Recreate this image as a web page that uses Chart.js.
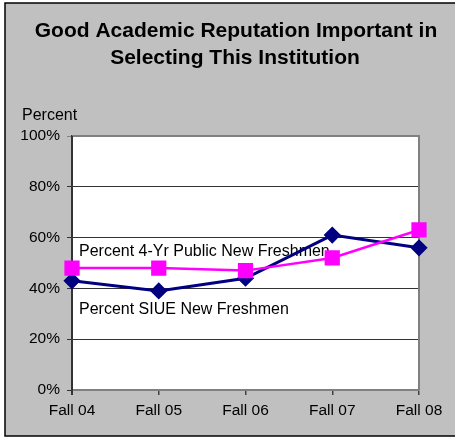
<!DOCTYPE html>
<html>
<head>
<meta charset="utf-8">
<script src="https://cdn.jsdelivr.net/npm/chart.js@4/dist/chart.umd.min.js"></script>
<style>
  html, body { margin: 0; padding: 0; background: #fff; }
  canvas { display: block; }
</style>
</head>
<body>
<canvas id="chart" width="455" height="439"></canvas>
<script>
// chart data
const categories = ['Fall 04', 'Fall 05', 'Fall 06', 'Fall 07', 'Fall 08'];
const siueValues = [43, 39, 44, 61, 56];
const publicValues = [48, 48, 47, 52, 63];
const seriesNames = ['Percent 4-Yr Public New Freshmen', 'Percent SIUE New Freshmen'];
const titleLines = ['Good Academic Reputation Important in', 'Selecting This Institution'];
const yTicks = [0, 20, 40, 60, 80, 100];

const FONT = '"Liberation Sans", Arial, sans-serif';

// gray frame, white plot area, titles and in-plot labels
const frame = {
    id: 'frame',
    beforeDraw(chart) {
        const ctx = chart.ctx;
        const a = chart.chartArea;
        ctx.save();
        ctx.fillStyle = '#c0c0c0';
        ctx.fillRect(5, 3, 450, 433);
        ctx.strokeStyle = '#000';
        ctx.lineWidth = 1.5;
        ctx.beginPath();
        ctx.moveTo(456, 3);
        ctx.lineTo(5, 3);
        ctx.lineTo(5, 436);
        ctx.lineTo(456, 436);
        ctx.stroke();
        ctx.fillStyle = '#fff';
        ctx.fillRect(a.left, a.top, a.right - a.left, a.bottom - a.top);

        ctx.fillStyle = '#000';
        ctx.textAlign = 'center';
        ctx.textBaseline = 'middle';
        ctx.font = 'bold 21px ' + FONT;
        ctx.fillText(titleLines[0], 236, 31);
        ctx.fillText(titleLines[1], 235, 58);

        ctx.textAlign = 'left';
        ctx.font = '16px ' + FONT;
        ctx.fillText('Percent', 22, 116);
        ctx.restore();
    },
    beforeDatasetsDraw(chart) {
        const ctx = chart.ctx;
        const a = chart.chartArea;
        const y = chart.scales.y;
        ctx.save();
        ctx.strokeStyle = '#808080';
        ctx.lineWidth = 2;
        ctx.beginPath();
        ctx.moveTo(a.left, a.top);
        ctx.lineTo(a.right, a.top);
        ctx.lineTo(a.right, a.bottom);
        ctx.stroke();
        ctx.strokeStyle = '#333';
        ctx.beginPath();
        ctx.moveTo(a.left, a.top);
        ctx.lineTo(a.left, a.bottom + 5);
        ctx.stroke();

        ctx.fillStyle = '#000';
        ctx.font = '16px ' + FONT;
        ctx.textAlign = 'left';
        ctx.textBaseline = 'middle';
        ctx.fillText(seriesNames[0], a.left + 7, y.getPixelForValue(54.5));
        ctx.fillText(seriesNames[1], a.left + 7, y.getPixelForValue(31.5));
        ctx.restore();
    }
};

new Chart(document.getElementById('chart'), {
    type: 'line',
    data: {
        labels: categories,
        datasets: [
            {
                label: seriesNames[0],
                data: publicValues,
                borderColor: '#ff00ff',
                backgroundColor: '#ff00ff',
                borderWidth: 2.5,
                pointStyle: 'rect',
                pointRadius: 9,
                pointHoverRadius: 9,
                tension: 0
            },
            {
                label: seriesNames[1],
                data: siueValues,
                borderColor: '#000080',
                backgroundColor: '#000080',
                borderWidth: 3,
                pointStyle: 'rectRot',
                pointRadius: 6.5,
                pointHoverRadius: 6.5,
                tension: 0
            }
        ]
    },
    options: {
        responsive: false,
        animation: false,
        layout: { padding: { left: 0, right: 36, top: 136, bottom: 0 } },
        plugins: {
            legend: { display: false },
            title: { display: false },
            tooltip: { enabled: false }
        },
        scales: {
            x: {
                offset: false,
                grid: { drawOnChartArea: false, drawTicks: true, tickLength: 5, color: '#404040', lineWidth: 1.5 },
                border: { color: '#808080', width: 2 },
                ticks: { color: '#000', font: { family: FONT, size: 15.5 }, padding: 6, maxRotation: 0 },
                afterFit(scale) { scale.height = 49; }
            },
            y: {
                min: 0,
                max: 100,
                afterBuildTicks(scale) { scale.ticks = yTicks.map(v => ({ value: v })); },
                grid: {
                    color: ctx => ctx.tick && ctx.tick.value === 100 ? '#808080' : '#333',
                    tickLength: 5,
                    lineWidth: 1
                },
                border: { color: '#333', width: 2 },
                ticks: {
                    color: '#000',
                    font: { family: FONT, size: 15.5 },
                    padding: 7,
                    callback: v => v + '%'
                },
                afterFit(scale) { scale.width = 72; }
            }
        }
    },
    plugins: [frame]
});
</script>
</body>
</html>
